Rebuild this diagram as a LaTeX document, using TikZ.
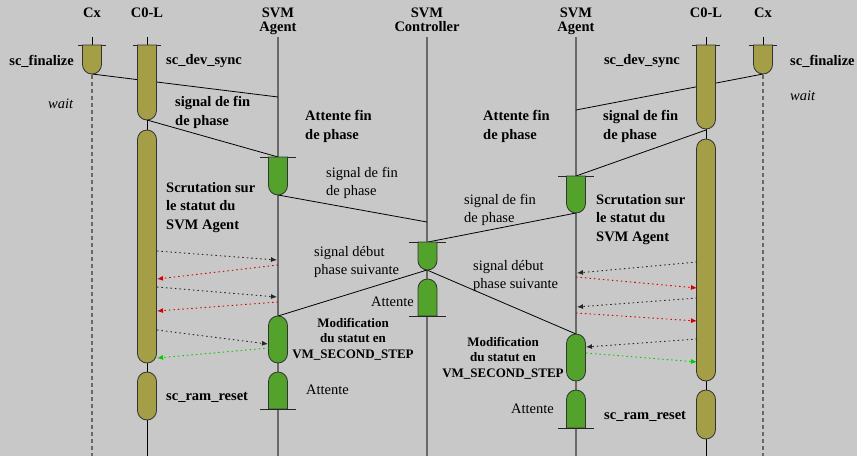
\documentclass[tikz,border=0pt]{standalone}
\usepackage{fontspec}
\setmainfont{Liberation Serif}
\usetikzlibrary{arrows.meta,calc,positioning}
\definecolor{bgray}{RGB}{200,200,200}
\definecolor{actolive}{RGB}{164,159,70}
\definecolor{actgreen}{RGB}{82,162,44}
\definecolor{lifegray}{RGB}{105,105,105}
\definecolor{pollred}{RGB}{215,0,0}
\definecolor{pollgreen}{RGB}{0,205,0}
\tikzset{act/.style={draw=black!80,line width=0.8pt},
  co/.style={act,fill=actolive},
  ag/.style={act,fill=actgreen},
  bar/.style={draw=black!85,line width=0.8pt},
  life/.style={draw=lifegray,line width=1.1pt},
  wline/.style={draw=lifegray,line width=1.1pt,dash pattern=on 4pt off 3pt},
  sig/.style={draw=black,line width=0.8pt},
  poll/.style={draw=black!85,line width=0.9pt,dash pattern=on 1.5pt off 3pt,-{Latex[length=6pt,width=5pt]}}}
% activation boxes: style, x, top, bottom
\newcommand{\actdn}[4]{\draw[#1] (#2-9.5,#3) [rounded corners=9.5pt]-- (#2-9.5,#4) -- (#2+9.5,#4) [sharp corners]-- (#2+9.5,#3) -- cycle;}
\newcommand{\actup}[4]{\draw[#1] (#2-9.5,#4) [rounded corners=9.5pt]-- (#2-9.5,#3) -- (#2+9.5,#3) [sharp corners]-- (#2+9.5,#4) -- cycle;}
\newcommand{\actpill}[4]{\draw[#1,rounded corners=9.5pt] (#2-9.5,#3) rectangle (#2+9.5,#4);}

\begin{document}
\begin{tikzpicture}[x=1pt,y=-1pt,font=\fontsize{14.5}{18}\selectfont,
  title/.style={font=\fontsize{14.5}{13.5}\selectfont\bfseries,align=center,anchor=north,inner sep=0pt},
  lbl/.style={font=\fontsize{14.5}{18.5}\selectfont\bfseries,align=left,anchor=base west,inner sep=0pt},
  txt/.style={align=left,anchor=base west,inner sep=0pt},
  modif/.style={font=\fontsize{13}{15.5}\selectfont\bfseries,align=center,anchor=base,inner sep=0pt}]
\fill[bgray] (0,0) rectangle (857,456);
\useasboundingbox (0,0) rectangle (857,456);

% titles
\node[title] (tcxl) at (92,8) {Cx};
\node[title] (tcol) at (147,8) {C0-L};
\node[title] (tagl) at (278,8) {SVM\\Agent};
\node[title] (tctl) at (427,8) {SVM\\Controller};
\node[title] (tagr) at (576,8) {SVM\\Agent};
\node[title] (tcor) at (706,8) {C0-L};
\node[title] (tcxr) at (763,8) {Cx};

% lifelines
\foreach \x in {278,427,576}{\draw[life] (\x,37) -- (\x,456);}
\foreach \x in {147,706}{\draw[sig] (\x,37) -- (\x,456);}
\foreach \x in {92,763}{\draw[sig] (\x,37) -- (\x,45); \draw[wline] (\x,75) -- (\x,456);}

% end points of the signals
\coordinate (cxl) at (92,74);
\coordinate (col1) at (147,120);
\coordinate (agla) at (278,97);
\coordinate (agl1t) at (278,157);
\coordinate (agl1b) at (278,195);
\coordinate (ctla) at (427,222);
\coordinate (ctl1t) at (428,242);
\coordinate (ctl1b) at (427,270);
\coordinate (agl2t) at (278,316);
\coordinate (agr2t) at (576,334);
\coordinate (cxr) at (763,74);
\coordinate (cor1) at (706,130);
\coordinate (agra) at (576,110);
\coordinate (agr1t) at (576,176);
\coordinate (agr1b) at (576,213);
\draw[sig] (cxl) -- (agla);
\draw[sig] (col1) -- (agl1t);
\draw[sig] (agl1b) -- (ctla);
\draw[sig] (cxr) -- (agra);
\draw[sig] (cor1) -- (agr1t);
\draw[sig] (agr1b) -- (ctl1t);
\draw[sig] (ctl1b) -- (agl2t);
\draw[sig] (ctl1b) -- (agr2t);

% activations, left
\draw[bar] (78,45) -- (106,45);
\actdn{co}{92}{45}{74}
\draw[bar] (133,45) -- (161,45);
\actdn{co}{147}{45}{120}
\actpill{co}{147}{130}{363}
\actpill{co}{147}{372}{420}
\draw[bar] (260,157) -- (296,157);
\actdn{ag}{278}{157}{195}
\actpill{ag}{278}{316}{363}
\actup{ag}{278}{372}{409}
\draw[bar] (260,409) -- (296,409);
% controller
\draw[bar] (409,242) -- (446,242);
\actdn{ag}{427.5}{242}{270}
\actup{ag}{427.5}{279}{316}
\draw[bar] (409,316) -- (446,316);
% activations, right
\draw[bar] (558,176) -- (594,176);
\actdn{ag}{576}{176}{213}
\actpill{ag}{576}{334}{381}
\actup{ag}{576}{390}{428}
\draw[bar] (558,428) -- (594,428);
\draw[bar] (692,45) -- (720,45);
\actdn{co}{706}{45}{129}
\actpill{co}{706}{139}{381}
\actpill{co}{706}{390}{439}
\draw[bar] (749,45) -- (777,45);
\actdn{co}{763}{45}{74}

% polling, left
\foreach \n/\y in {a/251,b/279,c/287,d/311,e/330,f/358}{\coordinate (cl\n) at (157,\y);}
\foreach \n/\x/\y in {a/277/260,b/278/265,c/277/297,d/278/302,e/268/344,f/269/348}{\coordinate (al\n) at (\x,\y);}
\draw[poll] (cla) -- (ala);
\draw[poll,draw=pollred,-{Latex[length=6pt,width=5pt,fill=pollred]}] (alb) -- (clb);
\draw[poll] (clc) -- (alc);
\draw[poll,draw=pollred,-{Latex[length=6pt,width=5pt,fill=pollred]}] (ald) -- (cld);
\draw[poll] (cle) -- (ale);
\draw[poll,draw=pollgreen,-{Latex[length=6pt,width=5pt,fill=pollgreen]}] (alf) -- (clf);
% polling, right
\foreach \n/\y in {a/262,b/288,c/298,d/321,e/339,f/362}{\coordinate (cr\n) at (697,\y);}
\foreach \n/\x/\y in {a/577/273,b/576/277,c/577/307,d/576/313,e/586/347,f/586/353}{\coordinate (ar\n) at (\x,\y);}
\draw[poll] (cra) -- (ara);
\draw[poll,draw=pollred,-{Latex[length=6pt,width=5pt,fill=pollred]}] (arb) -- (crb);
\draw[poll] (crc) -- (arc);
\draw[poll,draw=pollred,-{Latex[length=6pt,width=5pt,fill=pollred]}] (ard) -- (crd);
\draw[poll] (cre) -- (are);
\draw[poll,draw=pollgreen,-{Latex[length=6pt,width=5pt,fill=pollgreen]}] (arf) -- (crf);

% labels, left (base = last line)
\node[lbl,anchor=base east] (finl) at (74,65) {sc\_finalize};
\node[lbl] (syncl) at (166,64) {sc\_dev\_sync};
\node[txt,font=\fontsize{14.5}{18}\selectfont\itshape] (waitl) at (48,108) {wait};
\node[lbl] (sfinl) at (175,125) {signal de fin\\de phase};
\node[lbl] (attl) at (305,139) {Attente fin\\de phase};
\node[txt] (sfin2l) at (326,195) {signal de fin\\de phase};
\node[lbl] (scrl) at (166,229) {Scrutation sur\\le statut du\\SVM Agent};
\node[txt] (sdebl) at (314,274) {signal début\\phase suivante};
\node[txt,anchor=base east] (attc) at (414,306) {Attente};
\node[modif] (modl) at (353,358) {Modification\\du statut en\\VM\_SECOND\_STEP};
\node[txt] (att2l) at (306,394) {Attente};
\node[lbl] (raml) at (166,400) {sc\_ram\_reset};
% labels, right
\node[lbl] (finr) at (790,65) {sc\_finalize};
\node[lbl,anchor=base east] (syncr) at (680,64) {sc\_dev\_sync};
\node[txt,font=\fontsize{14.5}{18}\selectfont\itshape] (waitr) at (790,100) {wait};
\node[lbl] (sfinr) at (603,139) {signal de fin\\de phase};
\node[lbl] (attr) at (483,139) {Attente fin\\de phase};
\node[txt] (sfin2r) at (464,222) {signal de fin\\de phase};
\node[lbl] (scrr) at (596,241) {Scrutation sur\\le statut du\\SVM Agent};
\node[txt] (sdebr) at (473,288) {signal début\\phase suivante};
\node[modif] (modr) at (503,377) {Modification\\du statut en\\VM\_SECOND\_STEP};
\node[txt] (att2r) at (511,413) {Attente};
\node[lbl] (ramr) at (604,419) {sc\_ram\_reset};
\end{tikzpicture}
\end{document}
